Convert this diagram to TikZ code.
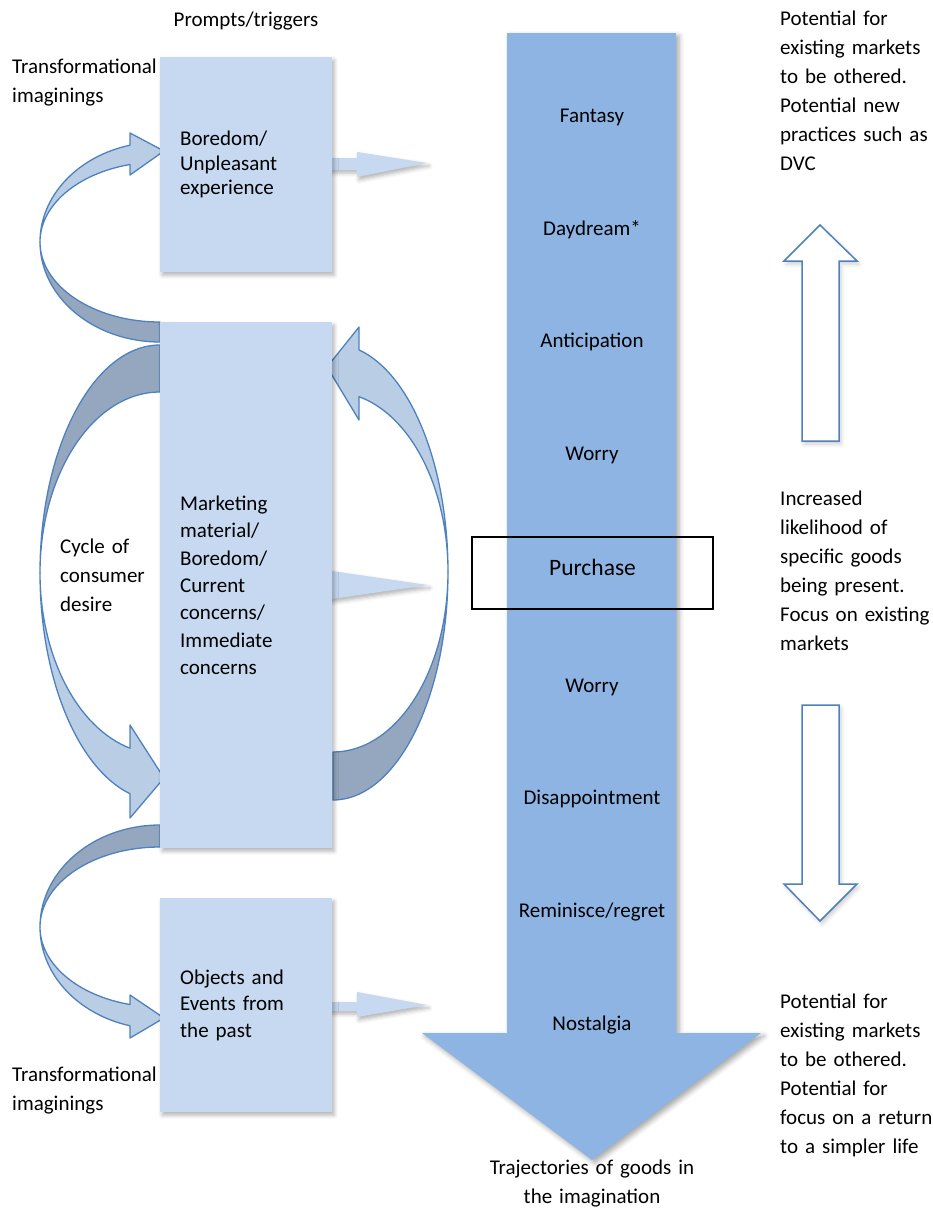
\documentclass[tikz,border=0pt]{standalone}
\usepackage{fontspec}
\setmainfont{Carlito}
\usetikzlibrary{shadows.blur}
\definecolor{boxfill}{HTML}{C6D9F1}
\definecolor{arrowfill}{HTML}{8EB4E3}
\definecolor{bandlight}{HTML}{B9CDE5}
\definecolor{banddark}{HTML}{95A7BE}
\definecolor{bandline}{HTML}{4F81BD}
\begin{document}
\begin{tikzpicture}[x=1pt,y=1pt,
  softshadow/.style={blur shadow={shadow xshift=2pt, shadow yshift=-3pt, shadow blur radius=4pt, shadow opacity=30}},
  box/.style={fill=boxfill, softshadow, inner xsep=20pt, inner ysep=0pt, minimum width=172pt, text width=132pt, align=left, anchor=north west},
  band/.style={draw=bandline, line width=1.3pt, line join=round},
  lbl/.style={inner sep=0pt, font=\fontsize{21}{29}\selectfont},
  mlbl/.style={lbl, text width=200pt, align=left, anchor=base west},
  midlbl/.style={lbl, anchor=base},
  outarrow/.style={draw=bandline, line width=1.5pt, fill=white, blur shadow={shadow xshift=2pt, shadow yshift=-3pt, shadow blur radius=4pt, shadow opacity=20}}
]
\useasboundingbox (0,0) rectangle (933,-1221);

% main trajectory arrow
\fill[arrowfill, blur shadow={shadow xshift=3pt, shadow yshift=-3pt, shadow blur radius=5pt, shadow opacity=35}]
  (507,-33) -- (676,-33) -- (676,-1033) -- (761,-1033) -- (592,-1160) -- (422,-1033) -- (507,-1033) -- cycle;

% upper-left curved arrow (box2 -> box1)
\filldraw[band, fill=banddark] (160,-342) arc[start angle=270, end angle=180, x radius=120pt, y radius=100pt]
  arc[start angle=180, end angle=270, x radius=120pt, y radius=80pt] -- cycle;
\filldraw[band, fill=bandlight] (40,-242) arc[start angle=180, end angle=104.48, x radius=120pt, y radius=100pt]
  -- (130,-133) -- (164,-151) -- (130,-175) -- (130,-164.5)
  arc[start angle=104.48, end angle=180, x radius=120pt, y radius=80pt] -- cycle;

% left cycle arrow
\filldraw[band, fill=banddark] (160,-345) arc[start angle=90, end angle=180, x radius=120pt, y radius=228pt]
  arc[start angle=180, end angle=90, x radius=120pt, y radius=181pt] -- cycle;
\filldraw[band, fill=bandlight] (40,-573) arc[start angle=180, end angle=255.52, x radius=120pt, y radius=228pt]
  -- (130,-818) -- (164,-778) -- (130,-725) -- (130,-748.2)
  arc[start angle=255.52, end angle=180, x radius=120pt, y radius=181pt] -- cycle;

% right cycle arrow
\filldraw[band, fill=banddark] (333,-800) arc[start angle=270, end angle=360, x radius=115pt, y radius=228pt]
  arc[start angle=0, end angle=-90, x radius=115pt, y radius=180pt] -- cycle;
\filldraw[band, fill=bandlight] (448,-572) arc[start angle=0, end angle=76.94, x radius=115pt, y radius=228pt]
  -- (359,-327) -- (327,-367) -- (359,-420) -- (359,-396.7)
  arc[start angle=76.94, end angle=0, x radius=115pt, y radius=180pt] -- cycle;

% lower-left curved arrow (box2 -> box3)
\filldraw[band, fill=banddark] (160,-825) arc[start angle=90, end angle=180, x radius=120pt, y radius=102pt]
  arc[start angle=180, end angle=90, x radius=120pt, y radius=80pt] -- cycle;
\filldraw[band, fill=bandlight] (40,-927) arc[start angle=180, end angle=255.52, x radius=120pt, y radius=102pt]
  -- (130,-1038) -- (164,-1018) -- (130,-995) -- (130,-1004.5)
  arc[start angle=255.52, end angle=180, x radius=120pt, y radius=80pt] -- cycle;

% small arrows from the boxes
\fill[boxfill, softshadow] (325,-158) -- (357,-158) -- (357,-152) -- (427,-163) -- (357,-177) -- (357,-170) -- (325,-170) -- cycle;
\fill[boxfill, softshadow] (325,-570) -- (428,-585) -- (325,-600) -- cycle;
\fill[boxfill, softshadow] (325,-1002) -- (357,-1002) -- (357,-992) -- (427,-1005) -- (357,-1017) -- (357,-1011) -- (325,-1011) -- cycle;

% boxes
\node[box, minimum height=215pt, font=\fontsize{21}{24.6}\selectfont] (b1) at (160,-57) {Boredom/\\Unpleasant\\experience};
\node[box, minimum height=526pt, font=\fontsize{21}{27.4}\selectfont] (b2) at (160,-322) {Marketing\\material/\\Boredom/\\Current\\concerns/\\Immediate\\concerns};
\node[box, minimum height=214pt, font=\fontsize{21}{26.8}\selectfont] (b3) at (160,-898) {Objects and\\Events from\\the past};

% labels along the trajectory
\node[midlbl] (fan) at (592,-122) {Fantasy};
\node[midlbl] (day) at (592,-235) {Daydream*};
\node[midlbl] (ant) at (592,-347) {Anticipation};
\node[midlbl] (wo1) at (592,-460) {Worry};
\node[draw=black, line width=1.3pt, minimum width=241pt, minimum height=72pt, inner sep=0pt,
      text height=12pt, text depth=8pt, font=\fontsize{23.5}{28}\selectfont] (pur) at (592.5,-573) {Purchase};
\node[midlbl] (wo2) at (592,-692) {Worry};
\node[midlbl] (dis) at (592,-804) {Disappointment};
\node[midlbl] (rem) at (592,-917) {Reminisce/regret};
\node[midlbl] (nos) at (592,-1030) {Nostalgia};

% other labels
\node[midlbl] (title) at (246,-26) {Prompts/triggers};
\node[mlbl] (ti1) at (12,-73) {Transformational\\imaginings};
\node[mlbl] (ti2) at (12,-1081) {Transformational\\imaginings};
\node[mlbl] (cyc) at (60,-553) {Cycle of\\consumer\\desire};
\node[lbl, text width=300pt, align=center, anchor=base] (traj) at (592,-1174) {Trajectories of goods in\\the imagination};
\node[mlbl] (r1) at (780,-25) {Potential for\\existing markets\\to be othered.\\Potential new\\practices such as\\DVC};
\node[mlbl] (r2) at (780,-505) {Increased\\likelihood of\\specific goods\\being present.\\Focus on existing\\markets};
\node[mlbl] (r3) at (780,-1008) {Potential for\\existing markets\\to be othered.\\Potential for\\focus on a return\\to a simpler life};

% outline arrows on the right
\draw[outarrow] (802,-441) -- (802,-261) -- (784,-261) -- (820,-225) -- (857,-261) -- (839,-261) -- (839,-441) -- cycle;
\draw[outarrow] (802,-705) -- (839,-705) -- (839,-884) -- (857,-884) -- (820,-921) -- (784,-884) -- (802,-884) -- cycle;
\end{tikzpicture}
\end{document}
